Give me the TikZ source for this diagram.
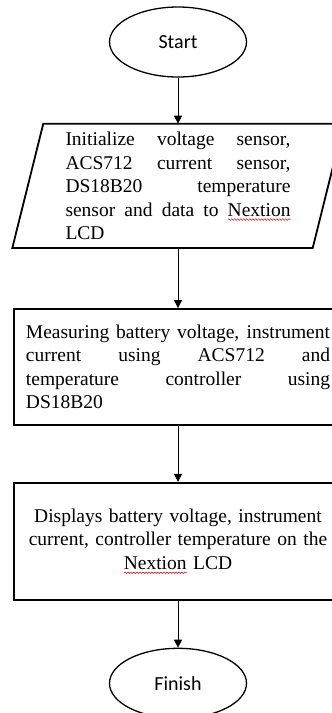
\documentclass[tikz,border=0pt]{standalone}
\usepackage{fontspec}
\setmainfont{Liberation Serif}
\newfontfamily\calfont{Carlito}
\usetikzlibrary{arrows.meta,shapes,positioning,calc,decorations.pathmorphing}
\newsavebox\spellbox
\newlength\spellwd
\newcommand\spellwave[1]{\leavevmode\sbox\spellbox{#1}\setlength\spellwd{\wd\spellbox}%
  \rlap{\tikz[baseline=0pt, x=1pt, y=1pt]\draw[red, line width=0.5pt, decorate, decoration={snake, amplitude=0.8pt, segment length=3pt}] (0,-3.5) -- (\spellwd,-3.5);}\usebox\spellbox}
\hbadness=10000

\begin{document}
\begin{tikzpicture}[x=1pt, y=1pt,
            terminal/.style={ellipse, draw, line width=1.3pt, minimum width=137pt, minimum height=70pt, inner sep=0pt, font=\calfont\fontsize{20}{24}\selectfont},
            io/.style={rectangle, minimum width=331pt, minimum height=118pt, inner sep=0pt, text width=225pt, align=justify, font=\fontsize{19.5}{23.5}\selectfont},
            process/.style={rectangle, draw, line width=1.8pt, minimum width=328pt, inner sep=0pt, text width=304pt, font=\fontsize{19.5}{23.5}\selectfont},
            arrow/.style={-{Triangle[length=8pt,width=8pt]}, line width=1pt}
        ]
            \useasboundingbox (0,0) rectangle (332,-713);
            \clip (0,0) rectangle (332,-713);
            \node[terminal] (start) at (178,-42) {Start};
            \node[io, below=49pt of start] (init) {Initialize voltage sensor,\linebreak ACS712 current sensor,\linebreak DS18B20 temperature\linebreak sensor and data to \spellwave{Nextion}\linebreak LCD};
            % parallelogram outline, 3pt outside the text node at top and bottom
            \draw[line width=1.8pt] ([yshift=-3pt]init.south west) -- ([xshift=31pt,yshift=3pt]init.north west) -- ([yshift=3pt]init.north east) -- ([xshift=-31pt,yshift=-3pt]init.south east) -- cycle;
            \node[process, minimum height=116pt, align=justify, below=63pt of init] (measure) {Measuring battery voltage, instrument\linebreak current using ACS712 and\linebreak temperature controller using\linebreak DS18B20};
            \node[process, minimum height=117pt, align=center, below=56pt of measure] (display) {Displays battery voltage, instrument\\current, controller temperature on the\\\spellwave{Nextion} LCD};
            \node[terminal, below=47pt of display] (finish) {Finish};
            \draw[arrow] (start.south) -- ([yshift=3pt]init.north);
            \draw[arrow] ([yshift=-3pt]init.south) -- (measure.north);
            \draw[arrow] (measure.south) -- (display.north);
            \draw[arrow] (display.south) -- (finish.north);
        \end{tikzpicture}
\end{document}
